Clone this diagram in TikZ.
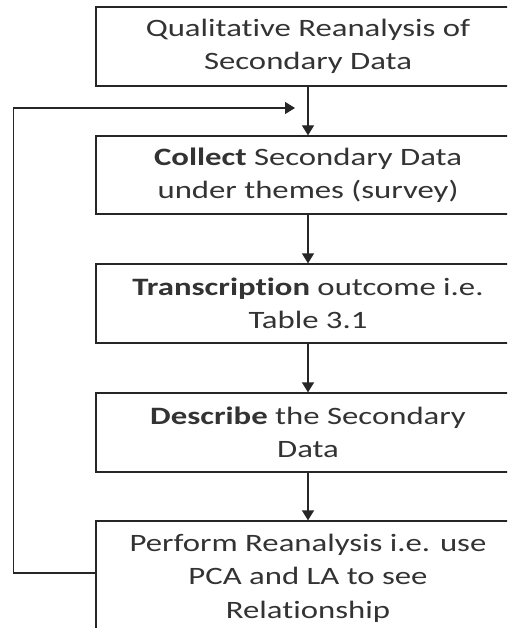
\documentclass[tikz,border=0pt]{standalone}
\usepackage{fontspec}
\setmainfont{Carlito}[FakeStretch=1.31, Ligatures=NoCommon]
\usetikzlibrary{arrows.meta}
\begin{document}
\begin{tikzpicture}[x=1pt,y=-1pt,
  stepbox/.style={draw=black!85, line width=1.3pt, minimum width=424pt, align=center, inner sep=0pt,
    font=\fontsize{25}{33.5}\selectfont, text=black!80},
  conn/.style={draw=black!85, line width=1.3pt, -{Triangle[width=12pt,length=10pt]}}]
\useasboundingbox (0,0) rectangle (507,628);
\clip (0,0) rectangle (507,628);
\fill[white] (0,0) rectangle (507,628);
\node[stepbox, minimum height=79pt] (b1) at (308,46.5) {Qualitative Reanalysis of\\Secondary Data};
\node[stepbox, minimum height=78pt] (b2) at (308,175) {\textbf{Collect} Secondary Data\\under themes (survey)};
\node[stepbox, minimum height=79pt] (b3) at (308,303.5) {\textbf{Transcription} outcome i.e.\\Table 3.1};
\node[stepbox, minimum height=79pt] (b4) at (308,432.5) {\textbf{Describe} the Secondary\\Data};
\node[stepbox, minimum height=114pt] (b5) at (308,578) {Perform Reanalysis i.e. use\\PCA and LA to see\\Relationship};
\coordinate (fb) at (295,108);
\draw[conn] (b1) -- (b2);
\draw[conn] (b2) -- (b3);
\draw[conn] (b3) -- (b4);
\draw[conn] (b4) -- (b5);
\draw[conn] ([yshift=5pt]b5.west) -- ++(-82,0) |- (fb);
\end{tikzpicture}
\end{document}
